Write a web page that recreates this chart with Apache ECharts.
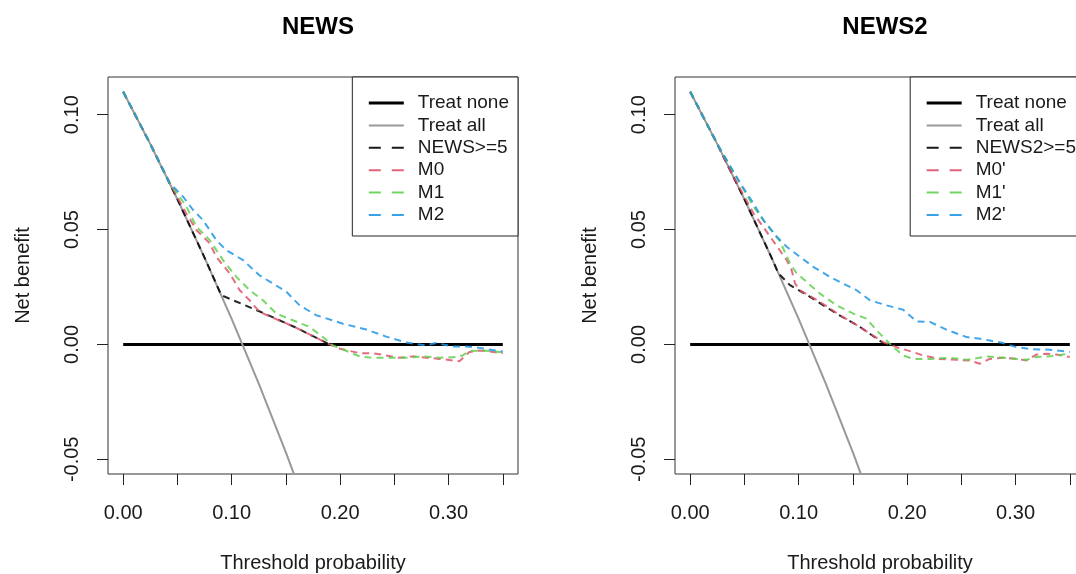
<!DOCTYPE html>
<html>
<head>
<meta charset="utf-8">
<script src="https://cdn.jsdelivr.net/npm/echarts@6.0.0/dist/echarts.min.js"></script>
<style>
html,body{margin:0;padding:0;background:#fff;}
#chart{width:1076px;height:574px;}
</style>
</head>
<body>
<div id="chart"></div>
<script>
// ---------- axis ticks / labels ----------
const xTickValues = [0, 0.05, 0.10, 0.15, 0.20, 0.25, 0.30, 0.35];
const xLabelValues = [0, 0.10, 0.20, 0.30];
const yTickValues = [-0.05, 0, 0.05, 0.10];
const panelTitles = ['NEWS', 'NEWS2'];
const xTitle = 'Threshold probability';
const yTitle = 'Net benefit';

// ---------- shared reference strategies ----------
const treatNoneX = [0, 0.35];
const treatNoneY = [0, 0];
const treatAllX = [0, 0.025, 0.05, 0.075, 0.10, 0.125, 0.15, 0.175];
const treatAllY = [0.11, 0.0872, 0.0632, 0.0378, 0.0111, -0.0171, -0.047, -0.0788];

// ---------- NEWS panel ----------
const newsNames = ['NEWS>=5', 'M0', 'M1', 'M2'];
const newsRuleX = [0, 0.025, 0.05, 0.075, 0.0905, 0.127, 0.158, 0.1903];
const newsRuleY = [0.11, 0.0872, 0.0632, 0.0378, 0.0214, 0.0141, 0.0076, 0.0];
const newsM0X = [0, 0.025, 0.043, 0.058, 0.0675, 0.0798, 0.0859, 0.0982, 0.1074, 0.1166, 0.1258, 0.158, 0.1903, 0.200, 0.218, 0.230, 0.2547, 0.267, 0.2916, 0.310, 0.3192, 0.3284, 0.350];
const newsM0Y = [0.11, 0.0872, 0.0702, 0.0571, 0.0498, 0.0440, 0.0381, 0.0309, 0.0236, 0.0192, 0.0141, 0.0076, 0.0, -0.0019, -0.0038, -0.0038, -0.0058, -0.0052, -0.0063, -0.0073, -0.0033, -0.0026, -0.0038];
const newsM1X = [0, 0.025, 0.043, 0.0583, 0.0675, 0.0798, 0.092, 0.1043, 0.1166, 0.1289, 0.1412, 0.1565, 0.1719, 0.1841, 0.1933, 0.2179, 0.230, 0.2609, 0.2762, 0.2916, 0.3069, 0.313, 0.3192, 0.3315, 0.3468, 0.350];
const newsM1Y = [0.11, 0.0872, 0.0702, 0.0600, 0.0512, 0.0454, 0.0367, 0.0294, 0.0236, 0.0192, 0.0134, 0.0105, 0.0076, 0.0032, -0.0004, -0.0052, -0.0058, -0.0058, -0.0052, -0.0058, -0.0055, -0.0048, -0.0029, -0.0026, -0.0033, -0.0035];
const newsM2X = [0, 0.025, 0.043, 0.0552, 0.0645, 0.0736, 0.0859, 0.0951, 0.1105, 0.1258, 0.1381, 0.1504, 0.1627, 0.178, 0.1964, 0.2026, 0.2241, 0.2425, 0.2609, 0.2793, 0.2885, 0.3039, 0.3162, 0.3284, 0.3468, 0.350];
const newsM2Y = [0.11, 0.0872, 0.0702, 0.0643, 0.0585, 0.0541, 0.0454, 0.0410, 0.0367, 0.0300, 0.0265, 0.0229, 0.0170, 0.0127, 0.0100, 0.0090, 0.0065, 0.0034, 0.0008, -0.0004, 0.0006, -0.0009, -0.0009, -0.0015, -0.0029, -0.0031];

// ---------- NEWS2 panel ----------
const news2Names = ['NEWS2>=5', "M0'", "M1'", "M2'"];
const news2RuleX = [0, 0.025, 0.05, 0.075, 0.0813, 0.092, 0.1105, 0.135, 0.1565, 0.178];
const news2RuleY = [0.11, 0.0872, 0.0632, 0.0378, 0.0309, 0.0258, 0.0207, 0.0134, 0.0076, 0.0006];
const news2M0X = [0, 0.025, 0.040, 0.0583, 0.0737, 0.089, 0.0936, 0.0967, 0.1013, 0.1197, 0.1381, 0.1565, 0.178, 0.1903, 0.2026, 0.2149, 0.2302, 0.2455, 0.2578, 0.2671, 0.2762, 0.2885, 0.3008, 0.310, 0.3192, 0.3284, 0.3376, 0.350];
const news2M0Y = [0.11, 0.0872, 0.0730, 0.0571, 0.0469, 0.0367, 0.0323, 0.0265, 0.0236, 0.0185, 0.0127, 0.0076, 0.0010, -0.0012, -0.0029, -0.0048, -0.0063, -0.0067, -0.0070, -0.0084, -0.0063, -0.0058, -0.0063, -0.0070, -0.0044, -0.0041, -0.0044, -0.0055];
const news2M1X = [0, 0.025, 0.046, 0.0583, 0.0675, 0.0829, 0.0921, 0.0982, 0.1074, 0.1197, 0.135, 0.1504, 0.1626, 0.1719, 0.1811, 0.1872, 0.1964, 0.2056, 0.221, 0.2394, 0.2548, 0.264, 0.2732, 0.2824, 0.3008, 0.310, 0.3192, 0.3315, 0.3438, 0.350];
const news2M1Y = [0.11, 0.0872, 0.0702, 0.0600, 0.0541, 0.0447, 0.0352, 0.0309, 0.0272, 0.0221, 0.0170, 0.0134, 0.0112, 0.0061, 0.0017, -0.0012, -0.0048, -0.0063, -0.0063, -0.0058, -0.0067, -0.0060, -0.0052, -0.0055, -0.0063, -0.0067, -0.0055, -0.0052, -0.0044, -0.0041];
const news2M2X = [0, 0.025, 0.046, 0.0583, 0.0675, 0.0798, 0.089, 0.1013, 0.1135, 0.1289, 0.141, 0.1534, 0.1657, 0.181, 0.1964, 0.2087, 0.221, 0.2363, 0.2548, 0.2671, 0.2762, 0.2885, 0.3008, 0.3131, 0.3315, 0.350];
const news2M2Y = [0.11, 0.0872, 0.0702, 0.0614, 0.0541, 0.0469, 0.0425, 0.0381, 0.0338, 0.0294, 0.0265, 0.0236, 0.0192, 0.0170, 0.0151, 0.0100, 0.0098, 0.0064, 0.0032, 0.0025, 0.0017, 0.0006, -0.0012, -0.0020, -0.0023, -0.0033];

// ---------- styling / layout ----------
const FONT = "'Liberation Sans', Arial, sans-serif";
const modelColors = ['#000000', '#DF536B', '#61D04F', '#2297E6'];
const grids = [
  {left: 108, top: 77, width: 410, height: 397},
  {left: 675, top: 77, width: 410, height: 397}
];
const xRange = [-0.014, 0.364];
const yRange = [-0.0564, 0.1164];

const zip = (xs, ys) => xs.map((x, i) => [x, ys[i]]);

const panels = [
  {names: newsNames, data: [[newsRuleX, newsRuleY], [newsM0X, newsM0Y], [newsM1X, newsM1Y], [newsM2X, newsM2Y]]},
  {names: news2Names, data: [[news2RuleX, news2RuleY], [news2M0X, news2M0Y], [news2M1X, news2M1Y], [news2M2X, news2M2Y]]}
];

const series = [];
const xAxes = [], yAxes = [], titles = [], legends = [];
panels.forEach((p, k) => {
  const g = grids[k];
  titles.push({
    text: panelTitles[k], left: g.left + g.width / 2, top: 10, textAlign: 'center',
    textStyle: {fontFamily: FONT, fontSize: 24, fontWeight: 'bold', color: '#000'}
  });
  xAxes.push({
    type: 'value', gridIndex: k, min: xRange[0], max: xRange[1], position: 'bottom',
    axisLine: {show: false, onZero: false}, splitLine: {show: false},
    axisTick: {show: true, inside: false, length: 11, customValues: xTickValues, lineStyle: {color: '#222', width: 1}},
    axisLabel: {show: true, customValues: xLabelValues, formatter: v => v.toFixed(2), margin: 29,
      fontFamily: FONT, fontSize: 20, color: '#1a1a1a'},
    name: xTitle, nameLocation: 'middle', nameGap: 79,
    nameTextStyle: {fontFamily: FONT, fontSize: 20, color: '#1a1a1a'}
  });
  yAxes.push({
    type: 'value', gridIndex: k, min: yRange[0], max: yRange[1], position: 'left',
    axisLine: {show: false, onZero: false}, splitLine: {show: false},
    axisTick: {show: true, inside: false, length: 11, customValues: yTickValues, lineStyle: {color: '#222', width: 1}},
    axisLabel: {show: true, customValues: yTickValues, formatter: v => v.toFixed(2), rotate: 90, margin: 26,
      fontFamily: FONT, fontSize: 20, color: '#1a1a1a'},
    name: yTitle, nameLocation: 'middle', nameGap: 75, nameRotate: 90,
    nameTextStyle: {fontFamily: FONT, fontSize: 20, color: '#1a1a1a'}
  });
  series.push({
    name: 'Treat none', type: 'line', xAxisIndex: k, yAxisIndex: k, symbol: 'none',
    data: zip(treatNoneX, treatNoneY), lineStyle: {color: '#000', width: 3}, itemStyle: {color: '#000'}, z: 2
  });
  series.push({
    name: 'Treat all', type: 'line', xAxisIndex: k, yAxisIndex: k, symbol: 'none',
    data: zip(treatAllX, treatAllY), lineStyle: {color: '#999999', width: 2}, itemStyle: {color: '#999999'}, z: 2
  });
  p.names.forEach((nm, i) => {
    series.push({
      name: nm, type: 'line', xAxisIndex: k, yAxisIndex: k, symbol: 'none',
      data: zip(p.data[i][0], p.data[i][1]),
      lineStyle: {color: modelColors[i], width: 2, type: [7, 5], opacity: 0.85},
      itemStyle: {color: modelColors[i]}, z: 3 + i
    });
  });
  const legendNames = ['Treat none', 'Treat all'].concat(p.names);
  legends.push({
    orient: 'vertical', right: 1076 - (g.left + g.width), top: g.top,
    backgroundColor: '#fff', borderColor: '#222', borderWidth: 1,
    padding: [16.5, 9, 11.5, 15], itemGap: 3.4, itemWidth: 35, itemHeight: 14,
    selectedMode: false, itemStyle: {opacity: 0},
    textStyle: {fontFamily: FONT, fontSize: 19, color: '#1a1a1a', padding: [0, 0, 0, 9]},
    data: legendNames.map((nm, i) => {
      if (i === 0) return {name: nm, lineStyle: {color: '#000', width: 3, type: 'solid', opacity: 1}};
      if (i === 1) return {name: nm, lineStyle: {color: '#999999', width: 2, type: 'solid', opacity: 1}};
      return {name: nm, lineStyle: {color: modelColors[i - 2], width: 2, type: [12, 11], opacity: 0.9}};
    })
  });
});

const chart = echarts.init(document.getElementById('chart'));
chart.setOption({
  animation: false,
  backgroundColor: '#fff',
  title: titles,
  legend: legends,
  grid: grids.map(g => Object.assign({show: true, borderColor: '#333', borderWidth: 1, backgroundColor: 'transparent', outerBoundsMode: 'none', containLabel: false}, g)),
  xAxis: xAxes,
  yAxis: yAxes,
  series: series
});
</script>
</body>
</html>
